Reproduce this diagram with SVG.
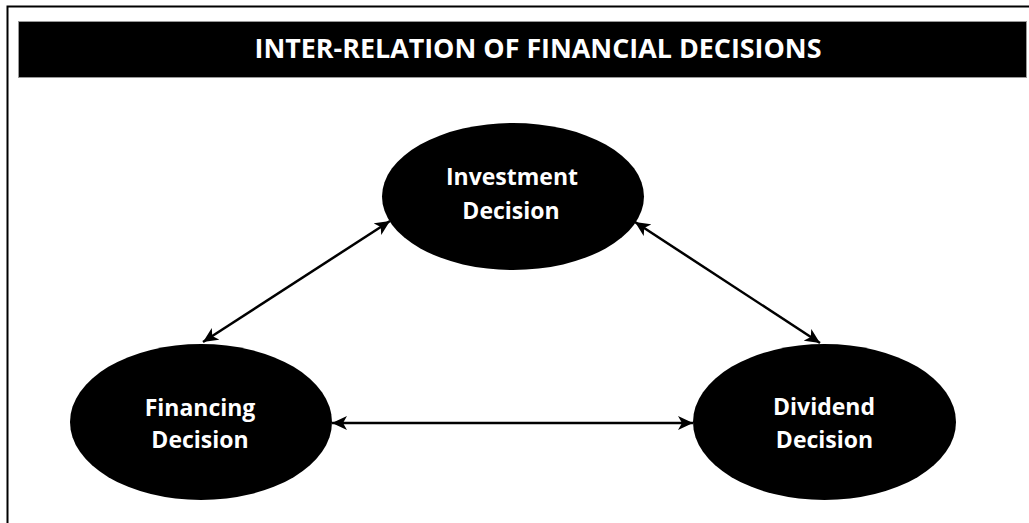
<svg xmlns="http://www.w3.org/2000/svg" width="1029" height="523" viewBox="0 0 1029 523">
<style>
.node{fill:#000}
.lbl{fill:#fff;font-family:"Open Sans","Liberation Sans",sans-serif;font-weight:bold;font-size:23px;text-anchor:middle}
.title{fill:#fff;font-family:"Open Sans","Liberation Sans",sans-serif;font-weight:bold;font-size:26px;text-anchor:middle}
.conn{stroke:#000;stroke-width:2.5;fill:none;marker-start:url(#ah);marker-end:url(#ah)}
</style>
<defs>
<marker id="ah" markerUnits="userSpaceOnUse" markerWidth="16" markerHeight="14" refX="15" refY="7" orient="auto-start-reverse" viewBox="0 0 16 14">
<path d="M0,0 L15,7 L0,14 L4,7 z" fill="#000"/>
</marker>
</defs>
<rect width="1029" height="523" fill="#fff"/>
<path d="M7.5,523 V6.5 H1029" fill="none" stroke="#000" stroke-width="2"/>
<g id="title">
<rect x="18.5" y="21.5" width="1008" height="56" fill="#000" stroke="#999" stroke-width="1"/>
<text class="title" x="538" y="58" textLength="567" lengthAdjust="spacingAndGlyphs">INTER-RELATION OF FINANCIAL DECISIONS</text>
</g>
<g id="connectors">
<line class="conn" x1="390" y1="221" x2="203" y2="342"/>
<line class="conn" x1="635" y1="222" x2="820" y2="343"/>
<line class="conn" x1="332" y1="423" x2="693" y2="423"/>
</g>
<g id="investment">
<ellipse class="node" cx="513" cy="196.5" rx="131" ry="73.5"/>
<text class="lbl" x="512" y="185">Investment</text>
<text class="lbl" x="511" y="219">Decision</text>
</g>
<g id="financing">
<ellipse class="node" cx="201" cy="422" rx="131" ry="78"/>
<text class="lbl" x="200" y="416">Financing</text>
<text class="lbl" x="200" y="448">Decision</text>
</g>
<g id="dividend">
<ellipse class="node" cx="824.5" cy="422" rx="131.5" ry="78"/>
<text class="lbl" x="824" y="415">Dividend</text>
<text class="lbl" x="824.5" y="448">Decision</text>
</g>
</svg>
